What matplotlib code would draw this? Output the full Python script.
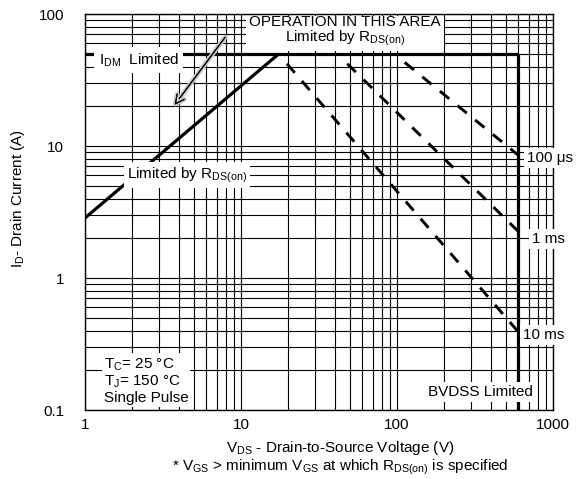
import numpy as np
import matplotlib
matplotlib.use("Agg")
import matplotlib.pyplot as plt
import matplotlib.ticker as mticker
import matplotlib.patheffects as pe

plt.rcParams['font.family'] = ['Liberation Sans', 'DejaVu Sans']
plt.rcParams['mathtext.default'] = 'regular'

# safe operating area data
rds_v = [1, 17.5]
rds_i = [2.85, 50]
idm_v = [1, 600]
idm_i = [50, 50]
bvdss_v = [600, 600]
bvdss_i = [50, 0.1]
us100_v = [112, 600]
us100_i = [43, 8.5]
ms1_v = [48, 600]
ms1_i = [42, 2.25]
ms10_v = [19.7, 600]
ms10_i = [42, 0.39]

x_ticks = [1, 10, 100, 1000]
x_labels = ['1', '10', '100', '1000']
y_ticks = [0.1, 1, 10, 100]
y_labels = ['0.1', '1', '10', '100']

fig = plt.figure(figsize=(5.76, 4.79), dpi=100)
ax = fig.add_axes([85 / 576, 1 - 410 / 479, 468 / 576, 396 / 479])

ax.set_xscale('log')
ax.set_yscale('log')
ax.set_xlim(1, 1000)
ax.set_ylim(0.1, 100)
ax.set_xticks(x_ticks)
ax.set_xticklabels(x_labels)
ax.set_yticks(y_ticks)
ax.set_yticklabels(y_labels)
ax.xaxis.set_minor_locator(mticker.LogLocator(base=10, subs=np.arange(2, 10)))
ax.yaxis.set_minor_locator(mticker.LogLocator(base=10, subs=np.arange(2, 10)))
ax.xaxis.set_minor_formatter(mticker.NullFormatter())
ax.yaxis.set_minor_formatter(mticker.NullFormatter())
ax.tick_params(which='both', length=0, labelsize=11)
ax.tick_params(axis='x', pad=6)
ax.tick_params(axis='y', pad=15)
ax.grid(which='both', color='black', lw=0.8, zorder=1)
ax.set_axisbelow(True)
for s in ax.spines.values():
    s.set_linewidth(1.0)

# limits
ax.plot(rds_v, rds_i, color='black', lw=2.3, solid_capstyle='butt', zorder=3)
ax.plot(idm_v, idm_i, color='black', lw=2.3, solid_capstyle='butt', zorder=3)
ax.plot(bvdss_v, bvdss_i, color='black', lw=2.3, solid_capstyle='butt', zorder=3)

# pulse lines
for v, i in [(us100_v, us100_i), (ms1_v, ms1_i), (ms10_v, ms10_i)]:
    ax.plot(v, i, color='black', lw=2.1, dashes=(4.1, 3.7), zorder=3)

box = dict(facecolor='white', edgecolor='none', boxstyle='square,pad=0.2')
fs = 11

ax.text(0.555, 0.955, 'OPERATION IN THIS AREA\nLimited by R$_{DS(on)}$',
        transform=ax.transAxes, ha='center', va='center', fontsize=fs,
        linespacing=0.95, bbox=box, zorder=6, clip_on=False)
ax.text(0.115, 0.884, 'I$_{DM}$  Limited', transform=ax.transAxes,
        ha='center', va='center', fontsize=fs, bbox=dict(facecolor='white', edgecolor='none',
                                                         boxstyle='square,pad=0.3'), zorder=6)
ax.text(0.218, 0.593, 'Limited by R$_{DS(on)}$', transform=ax.transAxes,
        ha='center', va='center', fontsize=fs, bbox=box, zorder=6)
ax.text(0.04, 0.012, 'T$_C$= 25 °C\nT$_J$= 150 °C\nSingle Pulse', transform=ax.transAxes,
        ha='left', va='bottom', fontsize=fs, linespacing=1.1,
        bbox=dict(facecolor='white', edgecolor='none', boxstyle='square,pad=0.1'),
        zorder=6, clip_on=False)
ax.text(0.944, 0.636, '100 μs', transform=ax.transAxes, ha='left', va='center',
        fontsize=fs, bbox=box, zorder=6, clip_on=False)
ax.text(0.955, 0.432, '1 ms', transform=ax.transAxes, ha='left', va='center',
        fontsize=fs, bbox=box, zorder=6, clip_on=False)
ax.text(0.936, 0.189, '10 ms', transform=ax.transAxes, ha='left', va='center',
        fontsize=fs, bbox=box, zorder=6, clip_on=False)
ax.text(0.844, 0.045, 'BVDSS Limited', transform=ax.transAxes, ha='center', va='center',
        fontsize=fs, bbox=box, zorder=6)

# arrow pointing into the area
ax.annotate('', xy=(0.188, 0.765), xytext=(0.303, 0.947), xycoords='axes fraction',
            arrowprops=dict(arrowstyle='->', lw=0.8, color='black', mutation_scale=16,
                            path_effects=[pe.withStroke(linewidth=3.5, foreground='#c8c8c8'),
                                          pe.Normal()]),
            zorder=5)

fig.text(18 / 576, 1 - 199 / 479, 'I$_D$- Drain Current (A)', rotation=90,
         ha='center', va='center', fontsize=fs)
fig.text(340 / 576, 1 - 448 / 479, 'V$_{DS}$ - Drain-to-Source Voltage (V)',
         ha='center', va='center', fontsize=fs)
fig.text(340 / 576, 1 - 467 / 479, '* V$_{GS}$ > minimum V$_{GS}$ at which R$_{DS(on)}$ is specified',
         ha='center', va='center', fontsize=fs)

fig.savefig('out.png', dpi=100)
